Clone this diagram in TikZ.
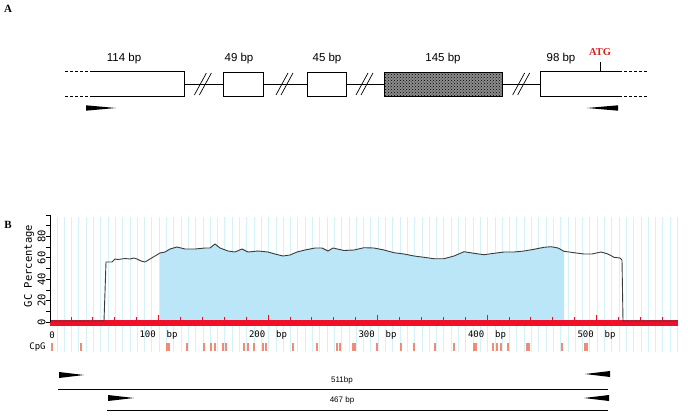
\documentclass[tikz,border=0pt]{standalone}
\usepackage{fontspec}
\setmainfont{Liberation Sans}
\newfontfamily\headfont{Liberation Serif}
\newfontfamily\plotfont{DejaVu Sans Mono}
\usetikzlibrary{patterns,calc}
\definecolor{atgred}{RGB}{220, 30, 30}
\definecolor{barred}{RGB}{238, 16, 40}
\definecolor{stripecyan}{RGB}{212, 242, 247}
\definecolor{islandblue}{RGB}{187, 230, 247}
\definecolor{cpgsalmon}{RGB}{240, 140, 118}
\definecolor{curvegray}{RGB}{60, 60, 60}

\begin{document}
\begin{tikzpicture}[
    x=1pt, y=-1pt,
    exon/.style={draw, line width=0.9pt, minimum height=24pt, inner sep=0pt, fill=white},
    openexon/.style={minimum height=24pt, inner sep=0pt},
    intron/.style={line width=0.9pt},
    flank/.style={line width=0.9pt, dash pattern=on 3pt off 2pt},
    sizelabel/.style={font=\fontsize{11.5}{13}\selectfont},
    panellabel/.style={font=\headfont\bfseries\fontsize{11}{13}\selectfont},
    stripe/.style={stripecyan, line width=0.6pt},
    plotlabel/.style={font=\plotfont\fontsize{9}{10}\selectfont},
    product/.style={line width=1pt},
    productlabel/.style={font=\fontsize{8}{9}\selectfont, inner sep=1pt}
]
    \useasboundingbox (0,0) rectangle (688,415);

    % panel A: exon map
    \node[panellabel] (labA) at (8,9) {A};
    \node[openexon, minimum width=91pt] (ex1) at (138.5,84) {};
    \node[exon, minimum width=40pt] (ex2) at (243,84) {};
    \node[exon, minimum width=39pt] (ex3) at (326.5,84) {};
    \node[exon, minimum width=118pt, preaction={fill=black!45}, pattern=crosshatch dots, pattern color=black] (ex4) at (443,84) {};
    \node[openexon, minimum width=78pt] (ex5) at (580,84) {};
    \draw[intron] (ex1.north west) -- (ex1.north east) -- (ex1.south east) -- (ex1.south west);
    \draw[intron] (ex5.north east) -- (ex5.north west) -- (ex5.south west) -- (ex5.south east);
    \draw[flank] (ex1.north west) -- ++(-28,0);
    \draw[flank] (ex1.south west) -- ++(-28,0);
    \draw[flank] (ex5.north east) -- ++(29,0);
    \draw[flank] (ex5.south east) -- ++(29,0);

    \draw[intron] (ex1.east) -- coordinate (cut1) (ex2.west);
    \draw[intron] (ex2.east) -- coordinate (cut2) (ex3.west);
    \draw[intron] (ex3.east) -- coordinate (cut3) (ex4.west);
    \draw[intron] (ex4.east) -- coordinate (cut4) (ex5.west);
    \foreach \c in {cut1,cut2,cut3,cut4}{
        \draw[line width=0.7pt] ($(\c)+(-9,11)$) -- ($(\c)+(3,-11)$);
        \draw[line width=0.7pt] ($(\c)+(-4,11)$) -- ($(\c)+(8,-11)$);
    }

    \node[sizelabel] (len1) at (124,59) {114 bp};
    \node[sizelabel] (len2) at (239,59) {49 bp};
    \node[sizelabel] (len3) at (327,59) {45 bp};
    \node[sizelabel] (len4) at (443,59) {145 bp};
    \node[sizelabel] (len5) at (561,59) {98 bp};

    \coordinate (atgfoot) at (600,72);
    \node[font=\headfont\bfseries\fontsize{10.5}{12}\selectfont, text=atgred, inner sep=1pt] (atg) at (600,52) {ATG};
    \draw[line width=0.8pt] (atgfoot) -- ++(0,-10);

    \fill (86,105.3) -- (86,110.7) -- (116,108) -- cycle;
    \fill (618,105.3) -- (618,110.7) -- (587,108) -- cycle;

    % panel B: GC content plot
    \node[panellabel] (labB) at (8,225) {B};
    \foreach \k in {1,...,86}
        \draw[stripe] ({49.5+7.3*\k},217) -- ({49.5+7.3*\k},352);

    \fill[islandblue] (160,320) -- (160,253) -- (165,252) -- (170,249) -- (177,247) -- (185,249)
        -- (195,249) -- (205,248) -- (210,248) -- (215,244) -- (220,248) -- (228,251) -- (235,252)
        -- (242,249) -- (248,252) -- (258,251) -- (268,252) -- (275,254) -- (283,256) -- (290,255)
        -- (297,252) -- (305,250) -- (315,248) -- (322,248) -- (328,251) -- (333,248) -- (344,250.5)
        -- (354,250) -- (364,247.7) -- (374,248) -- (384,250) -- (394,252.7) -- (404,254) -- (414,256)
        -- (424,257.3) -- (434,258.7) -- (444,258.7) -- (454,256) -- (464,251.7) -- (474,253.3)
        -- (484,254.7) -- (494,253.3) -- (504,252) -- (514,252) -- (524,251) -- (534,249.3)
        -- (544,247.3) -- (551,246.7) -- (558,248) -- (564,251.3) -- (564,320) -- cycle;

    \fill[barred] (50,319.5) rectangle (678,325.5);
    \foreach \k in {1,...,28}{
        \pgfmathsetmacro{\tk}{mod(\k,5)==0 ? 5 : 3}
        \draw[barred, line width=0.8pt] ({49+21.9*\k},319.5) -- ++(0,-\tk);
    }

    \draw[curvegray, line width=0.9pt] (50,321) -- (104,321) -- (105,292) -- (106,262) -- (112,262)
        -- (115,259) -- (118,259.5) -- (125,258.5) -- (130,259) -- (134,258) -- (137,259) -- (141,261)
        -- (145,262) -- (150,259) -- (155,256) -- (160,253) -- (165,252) -- (170,249) -- (177,247)
        -- (185,249) -- (195,249) -- (205,248) -- (210,248) -- (215,244) -- (220,248) -- (228,251)
        -- (235,252) -- (242,249) -- (248,252) -- (258,251) -- (268,252) -- (275,254) -- (283,256)
        -- (290,255) -- (297,252) -- (305,250) -- (315,248) -- (322,248) -- (328,251) -- (333,248)
        -- (344,250.5) -- (354,250) -- (364,247.7) -- (374,248) -- (384,250) -- (394,252.7)
        -- (404,254) -- (414,256) -- (424,257.3) -- (434,258.7) -- (444,258.7) -- (454,256)
        -- (464,251.7) -- (474,253.3) -- (484,254.7) -- (494,253.3) -- (504,252) -- (514,252)
        -- (524,251) -- (534,249.3) -- (544,247.3) -- (551,246.7) -- (558,248) -- (564,251.3)
        -- (574,252.7) -- (584,254) -- (592,254) -- (601,252) -- (608,254) -- (614,257.3)
        -- (620,258) -- (622,260) -- (623,321) -- (678,321);

    % y axis
    \draw[line width=0.9pt] (50,215) -- (50,322);
    \foreach \k in {0,...,10}
        \draw[line width=0.8pt] ({46},{322-10.7*\k}) -- ++(4,0);
    \foreach \v in {0,20,...,80}
        \node[plotlabel, rotate=90, font=\plotfont\fontsize{10.5}{12}\selectfont] (ytick\v) at ({41.5},{322-1.07*\v}) {\v};
    \node[plotlabel, rotate=90, font=\plotfont\fontsize{10.5}{12}\selectfont] (ytitle) at (29,266) {GC Percentage};

    % bp axis and CpG sites
    \node[plotlabel] (bp0) at (52,335) {0};
    \foreach \v in {100,200,...,500}
        \node[plotlabel] (bp\v) at ({49+1.095*\v},335) {\v\ \ bp};
    \node[plotlabel] (cpg) at (37.5,347.5) {CpG};
    \foreach \p in {52,81,167,169,187,204,211,215,223,226,244,248,254,263,266,293,317,337,340,
                    353,355,377,401,414,435,454,474,476,493,497,501,508,527,529,562,585,587}
        \draw[cpgsalmon, line width=1.2pt] (\p,343) -- (\p,351);

    % PCR products
    \coordinate (p1l) at (58,389);
    \coordinate (p1r) at (608,389);
    \coordinate (p2l) at (107,410);
    \coordinate (p2r) at (608,410);
    \draw[product] (p1l) -- (p1r);
    \draw[product] (p2l) -- (p2r);
    \node[productlabel] (len511) at (342,380) {511bp};
    \node[productlabel] (len467) at (342,400) {467 bp};
    \fill (59,372) -- (59,378) -- (84,375) -- cycle;
    \fill (610,371) -- (610,377) -- (585,374) -- cycle;
    \fill (108,395) -- (108,401) -- (134,398) -- cycle;
    \fill (609,395) -- (609,401) -- (584,398) -- cycle;
\end{tikzpicture}
\end{document}
